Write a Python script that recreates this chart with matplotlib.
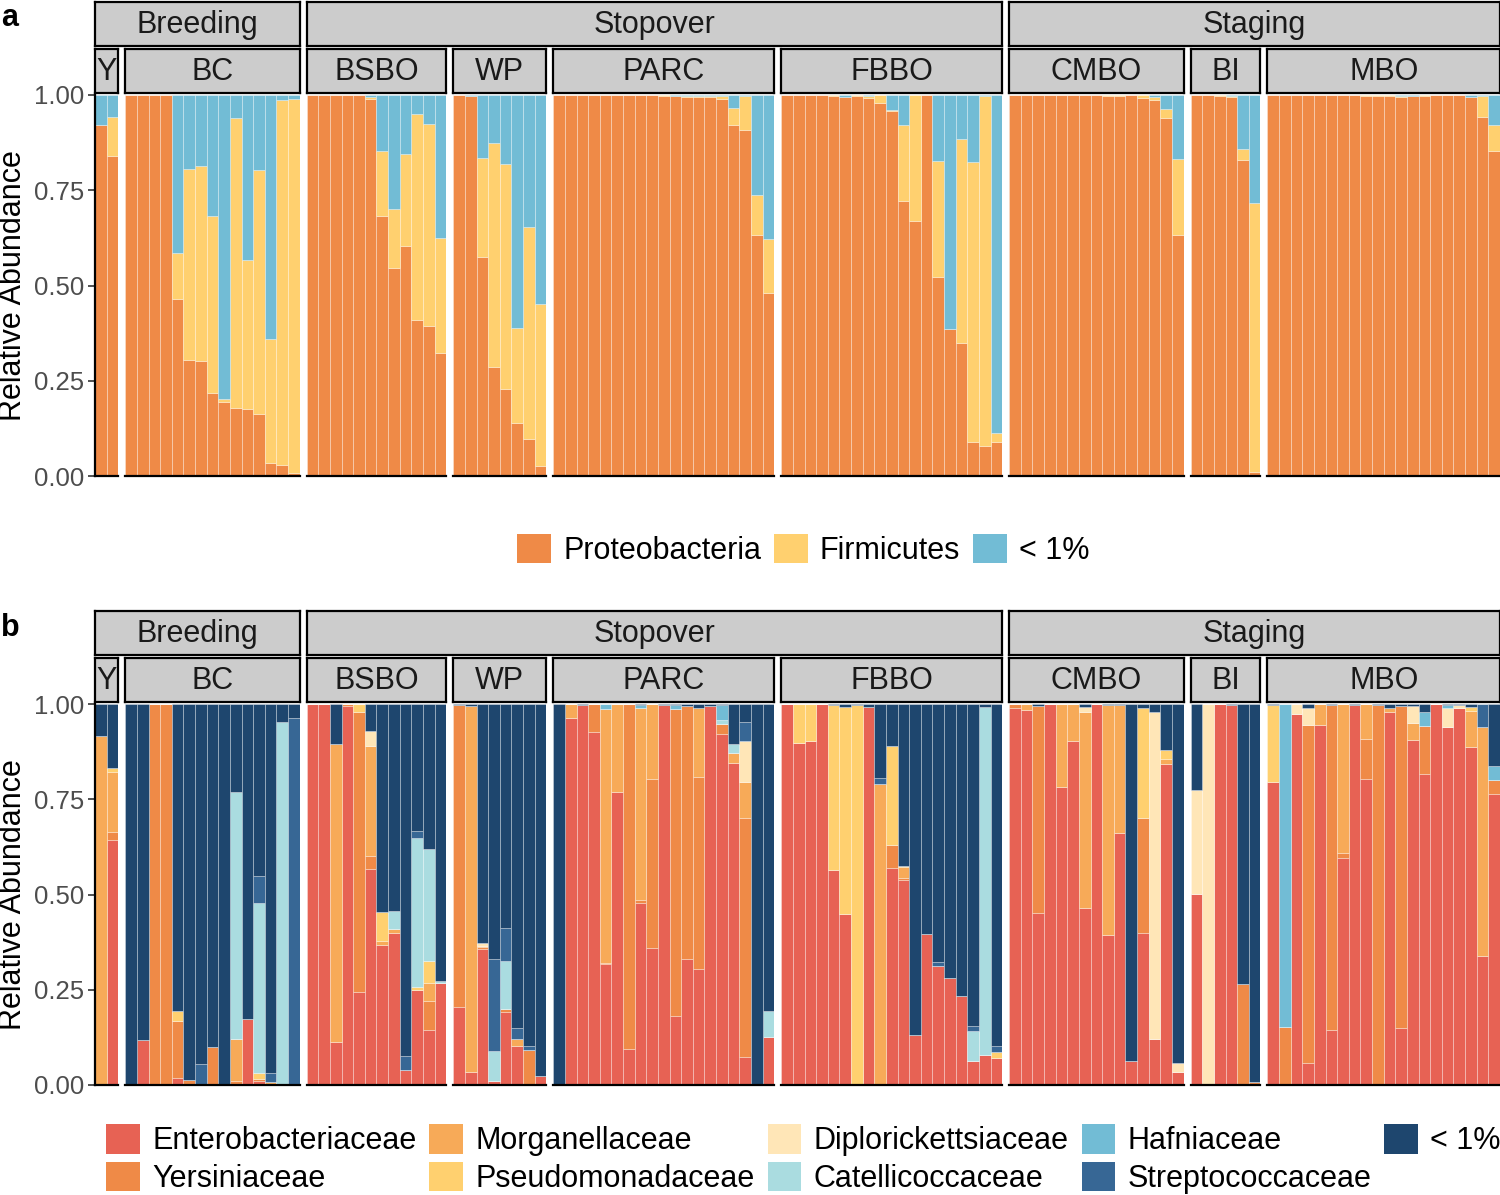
import numpy as np
import matplotlib.pyplot as plt
from matplotlib.patches import Patch

plt.rcParams['font.family'] = ['Liberation Sans', 'DejaVu Sans']

W, H = 1500, 1195

sites = ['Y', 'BC', 'BSBO', 'WP', 'PARC', 'FBBO', 'CMBO', 'BI', 'MBO']
n_samples = [2, 15, 12, 8, 19, 19, 15, 6, 20]
stages = ['Breeding', 'Stopover', 'Staging']
stage_nsites = [2, 4, 3]

# ---- panel a : phylum level (fractions per sample) ----
proteobacteria = [
    0.92, 0.839,
    1, 1, 1, 1, 0.464, 0.304, 0.301, 0.217, 0.195, 0.179, 0.175, 0.164, 0.033, 0.029, 0.007,
    1, 1, 1, 1, 1, 0.99, 0.683, 0.546, 0.603, 0.409, 0.393, 0.324,
    1, 0.997, 0.574, 0.285, 0.228, 0.139, 0.098, 0.025,
    1, 1, 1, 1, 1, 1, 1, 1, 1, 0.998, 0.997, 0.996, 0.996, 0.995, 0.99, 0.921, 0.908, 0.632, 0.481,
    1, 1, 1, 1, 0.998, 0.996, 0.997, 0.993, 0.978, 0.957, 0.723, 0.668, 1, 0.521, 0.387, 0.35, 0.089, 0.079, 0.089,
    1, 1, 1, 1, 1, 1, 1, 1, 0.998, 0.998, 1, 0.993, 0.987, 0.939, 0.632,
    1, 1, 0.998, 0.995, 0.829, 0.01,
    1, 1, 1, 1, 1, 1, 1, 1, 0.998, 0.997, 0.997, 0.996, 0.998, 0.998, 0.999, 1, 1, 0.994, 0.943, 0.853,
]
firmicutes = [
    0, 0.102,
    0, 0, 0, 0, 0.12, 0.501, 0.513, 0.465, 0.007, 0.761, 0.393, 0.638, 0.327, 0.958, 0.983,
    0, 0, 0, 0, 0, 0.005, 0.171, 0.154, 0.241, 0.541, 0.53, 0.30,
    0, 0, 0.261, 0.588, 0.591, 0.249, 0.556, 0.427,
    0, 0, 0, 0, 0, 0, 0, 0, 0, 0.001, 0, 0.002, 0.002, 0.003, 0.007, 0.046, 0.09, 0.105, 0.14,
    0, 0, 0, 0, 0.002, 0, 0.002, 0.004, 0.022, 0.003, 0.198, 0.332, 0, 0.306, 0, 0.534, 0.734, 0.918, 0.024,
    0, 0, 0, 0, 0, 0, 0, 0, 0.002, 0.001, 0, 0.007, 0.009, 0.024, 0.20,
    0, 0, 0.002, 0.002, 0.028, 0.707,
    0, 0, 0, 0, 0, 0, 0, 0, 0.002, 0.003, 0.003, 0.002, 0, 0.002, 0, 0, 0, 0.002, 0.055, 0.068,
]
phyla = ['Proteobacteria', 'Firmicutes', '< 1%']
phyla_colors = ['#ef8a47', '#ffd06f', '#72bcd5']

# ---- panel b : family level (fractions per sample) ----
enterobacteriaceae = [
    0, 0.643,
    0, 0.117, 0, 0, 0.019, 0, 0, 0, 0, 0, 0.173, 0.011, 0, 0, 0,
    1, 1, 0.112, 0.995, 0.243, 0.566, 0.367, 0.398, 0.039, 0.25, 0.144, 0.269,
    0.206, 0.033, 0.356, 0.01, 0.191, 0.103, 0, 0.023,
    0, 0.964, 0.997, 0.927, 0.317, 0.768, 0.094, 0.477, 0.36, 0.997, 0.18, 0.332, 0.304, 0.995, 0.92, 0.844, 0.074, 0, 0.125,
    1, 0.897, 0.902, 1, 0.563, 0.448, 0, 0.991, 0, 0.569, 0.538, 0.131, 0.397, 0.313, 0.282, 0.234, 0.063, 0.078, 0.07,
    0.99, 0.984, 0.452, 1, 0.781, 0.904, 0.465, 1, 0.394, 0.662, 0.064, 0.399, 0.122, 0.843, 0.035,
    0.501, 0, 1, 0.998, 0, 0,
    0.794, 0, 0.974, 0.057, 0.945, 0.144, 0.595, 0.997, 0.803, 0, 0.978, 0.15, 0.906, 0.815, 1, 0.94, 0.99, 0.888, 0.339, 0.763,
]
yersiniaceae = [
    0, 0.022,
    0, 0, 1, 1, 0.15, 0.012, 0, 0.099, 0, 0.01, 0, 0.004, 0, 0, 0,
    0, 0, 0, 0.004, 0.737, 0.035, 0, 0, 0, 0, 0.077, 0,
    0.791, 0, 0.005, 0, 0.009, 0, 0.093, 0,
    0, 0, 0, 0.073, 0.004, 0, 0.906, 0.009, 0.442, 0, 0.807, 0.663, 0.504, 0, 0.028, 0, 0.628, 0, 0,
    0, 0, 0, 0, 0, 0, 0, 0, 0, 0.061, 0.006, 0, 0, 0, 0, 0, 0, 0, 0,
    0.01, 0, 0.544, 0, 0, 0, 0, 0, 0, 0, 0, 0.301, 0, 0, 0,
    0, 0, 0, 0, 0.264, 0.007,
    0, 0.153, 0, 0.887, 0, 0.853, 0.015, 0, 0.106, 0.997, 0, 0.845, 0, 0.128, 0, 0, 0, 0, 0, 0.037,
]
morganellaceae = [
    0.916, 0.156,
    0, 0, 0, 0, 0, 0, 0, 0, 0, 0.112, 0, 0, 0.007, 0, 0,
    0, 0, 0.782, 0, 0, 0.29, 0.011, 0.011, 0, 0, 0.048, 0,
    0, 0.962, 0.005, 0, 0, 0.019, 0, 0,
    0, 0.036, 0, 0, 0.666, 0.232, 0, 0.503, 0.198, 0, 0, 0, 0.181, 0, 0, 0.027, 0.092, 0, 0,
    0, 0, 0, 0, 0, 0, 0, 0, 0.79, 0, 0.027, 0, 0, 0, 0, 0, 0, 0, 0,
    0, 0.016, 0, 0, 0.219, 0.096, 0.513, 0, 0.603, 0.335, 0, 0, 0, 0.012, 0,
    0, 0, 0, 0, 0, 0,
    0, 0, 0, 0, 0.055, 0, 0.39, 0, 0.091, 0, 0.011, 0, 0.043, 0, 0, 0, 0, 0.094, 0.6, 0,
]
pseudomonadaceae = [
    0, 0.01,
    0, 0, 0, 0, 0.026, 0, 0, 0, 0, 0, 0, 0.017, 0, 0, 0,
    0, 0, 0, 0, 0.019, 0, 0.077, 0, 0, 0.008, 0.057, 0,
    0, 0, 0, 0, 0, 0, 0, 0,
    0, 0, 0, 0, 0, 0, 0, 0, 0, 0, 0, 0, 0, 0, 0, 0, 0, 0, 0,
    0, 0.103, 0.098, 0, 0.434, 0.543, 0.997, 0, 0, 0.261, 0.005, 0, 0, 0, 0, 0, 0, 0, 0.017,
    0, 0, 0, 0, 0, 0, 0, 0, 0, 0, 0, 0.29, 0, 0.023, 0,
    0, 0, 0, 0, 0, 0,
    0.203, 0, 0, 0, 0, 0, 0, 0, 0, 0, 0, 0, 0, 0, 0, 0, 0, 0.009, 0, 0,
]
diplorickettsiaceae = [
    0, 0,
    0, 0, 0, 0, 0, 0, 0, 0, 0, 0, 0, 0, 0, 0, 0,
    0, 0, 0, 0, 0, 0.039, 0, 0, 0, 0, 0, 0,
    0, 0, 0.006, 0, 0, 0, 0, 0,
    0, 0, 0, 0, 0, 0, 0, 0, 0, 0, 0, 0, 0, 0, 0, 0, 0.11, 0, 0,
    0, 0, 0, 0, 0, 0, 0, 0, 0, 0, 0, 0, 0, 0, 0, 0, 0, 0, 0,
    0, 0, 0, 0, 0, 0, 0.015, 0, 0, 0, 0, 0, 0.856, 0, 0.024,
    0.273, 1, 0, 0, 0, 0,
    0, 0, 0.026, 0.046, 0, 0, 0, 0, 0, 0, 0, 0, 0.046, 0, 0, 0.05, 0.007, 0, 0, 0,
]
catellicoccaceae = [
    0, 0,
    0, 0, 0, 0, 0, 0, 0, 0, 0, 0.646, 0, 0.445, 0, 0.954, 0,
    0, 0, 0, 0, 0, 0, 0, 0.048, 0, 0.391, 0.294, 0.004,
    0, 0, 0, 0.08, 0.126, 0, 0, 0,
    0, 0, 0, 0, 0, 0, 0, 0, 0, 0, 0, 0, 0, 0, 0.01, 0.025, 0, 0, 0.07,
    0, 0, 0, 0, 0, 0, 0, 0, 0, 0, 0, 0, 0, 0, 0, 0, 0.079, 0.915, 0,
    0, 0, 0, 0, 0, 0, 0, 0, 0, 0, 0, 0, 0, 0, 0,
    0, 0, 0, 0, 0, 0,
    0, 0, 0, 0, 0, 0, 0, 0, 0, 0, 0, 0, 0, 0, 0, 0, 0, 0, 0, 0,
]
hafniaceae = [
    0, 0,
    0, 0, 0, 0, 0, 0, 0, 0, 0, 0, 0, 0, 0, 0, 0,
    0, 0, 0, 0, 0, 0, 0, 0, 0, 0, 0, 0,
    0, 0, 0, 0, 0, 0, 0, 0,
    0, 0, 0, 0, 0.013, 0, 0, 0.008, 0, 0, 0.01, 0, 0, 0, 0.039, 0, 0, 0, 0,
    0, 0, 0, 0, 0, 0, 0, 0, 0, 0, 0, 0, 0, 0, 0, 0, 0, 0, 0,
    0, 0, 0, 0, 0, 0, 0, 0, 0, 0, 0, 0, 0, 0, 0,
    0, 0, 0, 0, 0, 0,
    0, 0.847, 0, 0, 0, 0, 0, 0, 0, 0, 0, 0, 0, 0.035, 0, 0.007, 0, 0, 0, 0.036,
]
streptococcaceae = [
    0, 0,
    0, 0, 0, 0, 0, 0, 0.055, 0, 0, 0, 0, 0.071, 0.024, 0, 0.964,
    0, 0, 0, 0, 0, 0, 0, 0, 0.037, 0.018, 0, 0,
    0, 0, 0, 0.241, 0.086, 0.028, 0.01, 0,
    0, 0, 0, 0, 0, 0, 0, 0, 0, 0, 0, 0, 0, 0, 0, 0, 0.048, 0, 0,
    0, 0, 0, 0, 0, 0, 0, 0, 0.017, 0, 0, 0, 0, 0.011, 0, 0, 0.013, 0, 0.015,
    0, 0, 0, 0, 0, 0, 0, 0, 0, 0, 0, 0, 0, 0, 0,
    0, 0, 0, 0, 0, 0,
    0, 0, 0, 0, 0, 0, 0, 0, 0, 0, 0, 0, 0, 0, 0, 0, 0, 0, 0.061, 0,
]
families = ['Enterobacteriaceae', 'Yersiniaceae', 'Morganellaceae', 'Pseudomonadaceae',
            'Diplorickettsiaceae', 'Catellicoccaceae', 'Hafniaceae', 'Streptococcaceae', '< 1%']
family_colors = ['#e76254', '#ef8a47', '#f7aa58', '#ffd06f', '#ffe6b7',
                 '#aadce0', '#72bcd5', '#376795', '#1e466e']


def with_rest(series):
    arr = np.array(series, dtype=float)
    rest = np.clip(1 - arr.sum(axis=0), 0, None)
    return np.vstack([arr, rest])


comp_a = with_rest([proteobacteria, firmicutes])
comp_b = with_rest([enterobacteriaceae, yersiniaceae, morganellaceae, pseudomonadaceae,
                    diplorickettsiaceae, catellicoccaceae, hafniaceae, streptococcaceae])

fig = plt.figure(figsize=(15, 11.95), dpi=100)


def px_axes(x0, y0, x1, y1):
    return fig.add_axes([x0 / W, 1 - y1 / H, (x1 - x0) / W, (y1 - y0) / H])


# facet geometry (pixels)
left, right, gap = 95, 1500, 7
unit = (right - left - gap * (len(sites) - 1)) / sum(n_samples)
edges = []
x = left
for n in n_samples:
    edges.append((x, x + n * unit))
    x += n * unit + gap

FS = 22
TICK_FS = 18.5


def strip(x0, x1, y0, y1, label):
    s = px_axes(x0, y0, x1, y1)
    s.set_facecolor('#cccccc')
    s.set_xticks([])
    s.set_yticks([])
    for sp in s.spines.values():
        sp.set_linewidth(1.6)
        sp.set_color('black')
    s.text(0.5, 0.47, label, ha='center', va='center', fontsize=FS,
           color='#1a1a1a', transform=s.transAxes)


def draw_panel(comp, colors, offset):
    top, bot = 95 + offset, 476 + offset
    start = 0
    for i, (site, n) in enumerate(zip(sites, n_samples)):
        x0, x1 = edges[i]
        ax = px_axes(x0, top, x1, bot)
        block = comp[:, start:start + n]
        pos = np.arange(n)
        base = np.zeros(n)
        for k in range(block.shape[0]):
            ax.bar(pos, block[k], bottom=base, width=1, color=colors[k],
                   edgecolor=(1, 1, 1, 0.35), linewidth=0.6)
            base += block[k]
        ax.set_xlim(-0.5, n - 0.5)
        ax.set_ylim(0, 1)
        ax.set_xticks([])
        for sp in ['top', 'right']:
            ax.spines[sp].set_visible(False)
        ax.spines['bottom'].set_linewidth(1.6)
        if i == 0:
            ax.spines['left'].set_linewidth(1.6)
            ax.set_yticks([0, 0.25, 0.5, 0.75, 1])
            ax.set_yticklabels(['0.00', '0.25', '0.50', '0.75', '1.00'])
            ax.tick_params(axis='y', labelsize=TICK_FS, labelcolor='#4d4d4d',
                           color='#333333', length=5, width=1.2, pad=3)
            ax.set_ylabel('Relative Abundance', fontsize=FS, labelpad=4)
        else:
            ax.spines['left'].set_visible(False)
            ax.set_yticks([])
        strip(x0, x1, 49 + offset, 93 + offset, site)
        start += n
    k = 0
    for stage, ns in zip(stages, stage_nsites):
        strip(edges[k][0], edges[k + ns - 1][1], 2 + offset, 46 + offset, stage)
        k += ns


draw_panel(comp_a, phyla_colors, 0)
draw_panel(comp_b, family_colors, 609)

fig.text(10 / W, 1 - 18 / H, 'a', fontsize=FS, weight='bold', ha='center', va='center')
fig.text(10 / W, 1 - 628 / H, 'b', fontsize=FS, weight='bold', ha='center', va='center')

cx = (left + right) / 2 / W
handles_a = [Patch(facecolor=c, edgecolor='none') for c in phyla_colors]
fig.legend(handles_a, phyla, loc='center', bbox_to_anchor=(cx + 6 / W, 1 - 550 / H), ncol=3,
           frameon=False, fontsize=FS, handlelength=1.1, handleheight=1.1,
           handletextpad=0.4, columnspacing=0.43, borderpad=0)
handles_b = [Patch(facecolor=c, edgecolor='none') for c in family_colors]
fig.legend(handles_b, families, loc='center', bbox_to_anchor=(cx + 6 / W, 1 - 1159 / H), ncol=5,
           frameon=False, fontsize=FS, handlelength=1.1, handleheight=1.1,
           handletextpad=0.4, columnspacing=0.43, labelspacing=0.18, borderpad=0)

fig.savefig('out.png', dpi=100)
